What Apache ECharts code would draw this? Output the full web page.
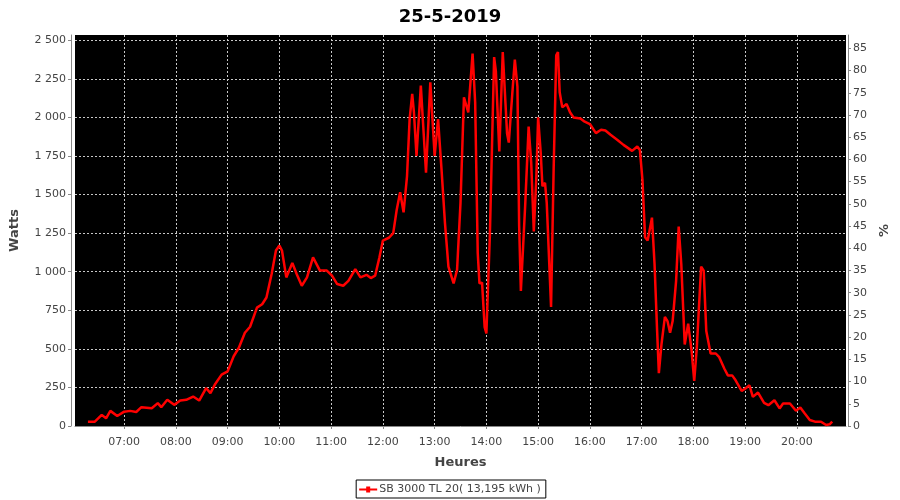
<!DOCTYPE html>
<html>
<head>
<meta charset="utf-8">
<script src="https://cdn.jsdelivr.net/npm/echarts@6/dist/echarts.min.js"></script>
<style>
html,body{margin:0;padding:0;background:#fff;}
#chart{width:900px;height:500px;}
</style>
</head>
<body>
<div id="chart"></div>
<script>
const chartTitle = "25-5-2019";
const seriesName = "SB 3000 TL 20( 13,195 kWh )";
const day = [2019, 4, 25];
const times = ["06:18","06:26","06:34","06:39","06:44","06:52","07:00","07:07","07:14","07:20","07:32","07:39","07:43","07:50","07:58","08:05","08:12","08:20","08:27","08:35","08:40","08:45","08:53","09:00","09:07","09:13","09:20","09:26","09:34","09:40","09:45","09:51","09:56","10:00","10:03","10:08","10:15","10:20","10:26","10:32","10:39","10:47","10:55","11:01","11:07","11:14","11:20","11:28","11:34","11:41","11:46","11:51","11:56","12:00","12:07","12:12","12:16","12:20","12:24","12:28","12:31","12:34","12:36","12:39","12:44","12:46","12:50","12:55","13:00","13:04","13:08","13:12","13:16","13:22","13:26","13:30","13:34","13:39","13:44","13:47","13:50","13:52","13:55","13:58","14:00","14:04","14:09","14:11","14:15","14:19","14:24","14:26","14:30","14:33","14:36","14:38","14:40","14:45","14:49","14:52","14:55","14:58","15:00","15:03","15:05","15:08","15:10","15:15","15:18","15:21","15:23","15:25","15:28","15:33","15:37","15:41","15:49","15:54","16:00","16:07","16:13","16:18","16:24","16:32","16:39","16:49","16:55","16:58","17:01","17:04","17:07","17:12","17:15","17:18","17:20","17:23","17:27","17:30","17:33","17:36","17:40","17:43","17:46","17:50","17:54","17:58","18:01","18:04","18:09","18:12","18:15","18:20","18:26","18:30","18:36","18:40","18:45","18:49","18:56","19:00","19:05","19:09","19:15","19:22","19:27","19:34","19:40","19:44","19:52","19:59","20:04","20:09","20:15","20:21","20:28","20:34","20:38","20:41"];
const watts = [28,28,72,50,98,65,93,98,91,122,115,148,122,170,137,165,170,191,165,246,213,267,333,354,452,507,604,643,767,789,833,985,1137,1170,1137,963,1057,985,909,963,1093,1007,1007,974,920,909,941,1017,963,980,959,974,1093,1202,1220,1250,1400,1515,1385,1620,1989,2152,2033,1750,2207,2210,1641,2228,1750,1989,1663,1315,1033,924,1011,1446,2130,2033,2413,2098,1120,924,929,641,600,1228,2391,2300,1780,2424,1895,1837,2150,2375,2200,1300,875,1430,1940,1707,1261,1620,2000,1772,1554,1576,1446,772,1663,2402,2424,2163,2065,2087,2033,2000,1993,1972,1957,1898,1920,1915,1887,1854,1822,1783,1811,1789,1593,1224,1202,1350,1050,615,343,528,707,680,604,680,941,1293,1050,528,663,485,293,507,1033,1007,615,470,470,446,371,328,328,296,227,242,264,189,217,150,135,167,114,146,146,99,120,82,39,28,28,6,11,28];
const xRange = ["06:03", "20:57"];
const wattsRange = [0, 2534];
const pctRange = [0, 88];

function ts(hm) {
  const p = hm.split(":");
  return new Date(day[0], day[1], day[2], +p[0], +p[1]).getTime();
}
function pad(n) { return (n < 10 ? "0" : "") + n; }

const data = times.map((t, i) => [ts(t), watts[i]]);
const FONT = "DejaVu Sans";
const splitStyle = { color: "#c8c8c8", type: [2, 2], width: 1 };

const chart = echarts.init(document.getElementById("chart"), null, { renderer: "canvas" });
chart.setOption({
  animation: false,
  backgroundColor: "#fff",
  title: {
    text: chartTitle, left: "center", top: 3,
    textStyle: { fontFamily: FONT, fontSize: 18, fontWeight: "bold", color: "#000" }
  },
  legend: {
    data: [{ name: seriesName, icon: "path://M0,5 L7,5 L7,3 L11,3 L11,5 L18,5 L18,7 L11,7 L11,9 L7,9 L7,7 L0,7 Z" }],
    bottom: 2, left: "center",
    borderColor: "#000", borderWidth: 1, borderRadius: 0,
    padding: [4, 5, 3, 3],
    itemWidth: 18, itemHeight: 6, itemGap: 2,
    textStyle: { fontFamily: FONT, fontSize: 11, color: "#444", padding: [0,0,0,-3] }
  },
  grid: {
    left: 75, right: 54, top: 35, bottom: 74,
    show: true, backgroundColor: "#000", borderWidth: 0
  },
  xAxis: {
    type: "time",
    min: ts(xRange[0]), max: ts(xRange[1]),
    minInterval: 3600000, maxInterval: 3600000, splitNumber: 14,
    offset: 4,
    name: "Heures", nameLocation: "middle", nameGap: 26,
    nameTextStyle: { fontFamily: FONT, fontSize: 13, fontWeight: "bold", color: "#444" },
    axisLine: { show: true, lineStyle: { color: "#888" } },
    axisTick: { show: true, length: 3, lineStyle: { color: "#888" } },
    axisLabel: {
      fontFamily: FONT, fontSize: 11, color: "#444", margin: 7,
      showMinLabel: false, showMaxLabel: false,
      formatter: function (v) { const d = new Date(v); return pad(d.getHours()) + ":" + pad(d.getMinutes()); }
    },
    splitLine: { show: true, showMinLine: false, showMaxLine: false, lineStyle: splitStyle }
  },
  yAxis: [{
    type: "value", position: "left",
    min: wattsRange[0], max: wattsRange[1], interval: 250,
    offset: 4,
    name: "Watts", nameLocation: "middle", nameGap: 50, nameRotate: 90,
    nameTextStyle: { fontFamily: FONT, fontSize: 13, fontWeight: "bold", color: "#444" },
    axisLine: { show: true, lineStyle: { color: "#888" } },
    axisTick: { show: true, length: 3, lineStyle: { color: "#888" } },
    axisLabel: {
      fontFamily: FONT, fontSize: 11, color: "#444", margin: 5, showMaxLabel: false,
      formatter: function (v) { return String(v).replace(/\B(?=(\d{3})+(?!\d))/g, " "); }
    },
    splitLine: { show: true, showMinLine: false, showMaxLine: false, lineStyle: splitStyle }
  }, {
    type: "value", position: "right",
    min: pctRange[0], max: pctRange[1], interval: 5,
    offset: 2,
    name: "%", nameLocation: "middle", nameGap: 30, nameRotate: 90,
    nameTextStyle: { fontFamily: FONT, fontSize: 13, fontWeight: "bold", color: "#444" },
    axisLine: { show: true, lineStyle: { color: "#888" } },
    axisTick: { show: true, length: 3, lineStyle: { color: "#888" } },
    axisLabel: { fontFamily: FONT, fontSize: 11, color: "#444", margin: 5, showMaxLabel: false },
    splitLine: { show: false }
  }],
  series: [{
    name: seriesName, type: "line", yAxisIndex: 0,
    data: data, showSymbol: false, symbol: "none",
    lineStyle: { color: "#ff0000", width: 2.5 },
    itemStyle: { color: "#ff0000" }
  }]
});
</script>
</body>
</html>
